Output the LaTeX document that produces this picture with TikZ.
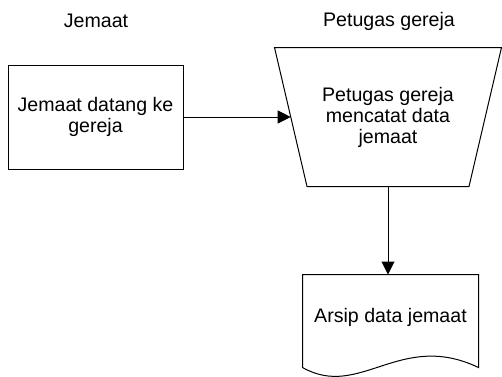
\documentclass[tikz,border=0pt]{standalone}
\usepackage{fontspec}
\setmainfont{Liberation Sans}
\usepackage{tikz}
\usetikzlibrary{arrows.meta,positioning}

\begin{document}
\begin{tikzpicture}[x=0.5pt,y=-0.5pt,line width=0.5pt,
		font=\fontsize{9.8}{10.5}\selectfont,
		proses/.style={draw, rectangle, align=center, minimum width=87.5pt, minimum height=52pt},
		manual/.style={rectangle, align=center, minimum width=113pt, minimum height=69pt},
		dok/.style={rectangle, minimum width=87.5pt, minimum height=46pt, text depth=6pt},
		panah/.style={->,>={Triangle[length=6.5pt,width=6.5pt]}}]
			\useasboundingbox (0,0) rectangle (502,376);
			
			\node (jemaat) at (96,21) {Jemaat} ;
			\node (petugas) at (389,21) {Petugas gereja} ;
			
			\node[proses] (datang) at (95.5,117) {Jemaat datang ke\\gereja} ;
			\node[manual] (catat) at (388,117) {Petugas gereja\\mencatat data\\jemaat} ;
			\node[dok] (arsip) at (390.5,321) {Arsip data jemaat} ;
			
			% operasi manual
			\draw (catat.north west) -- (catat.north east) -- ([xshift=-16.25pt]catat.south east)
				-- ([xshift=16.25pt]catat.south west) -- cycle ;
			
			% bentuk dokumen
			\draw (arsip.south west) -- (arsip.north west) -- (arsip.north east) -- (arsip.south east)
				.. controls (400,330) and (360,400) .. (arsip.south west) ;
			
			\draw[panah] (datang) -- ([xshift=8.1pt]catat.west) ;
			\draw[panah] (catat.south) -- (catat.south |- arsip.north) ;
		\end{tikzpicture}
\end{document}
